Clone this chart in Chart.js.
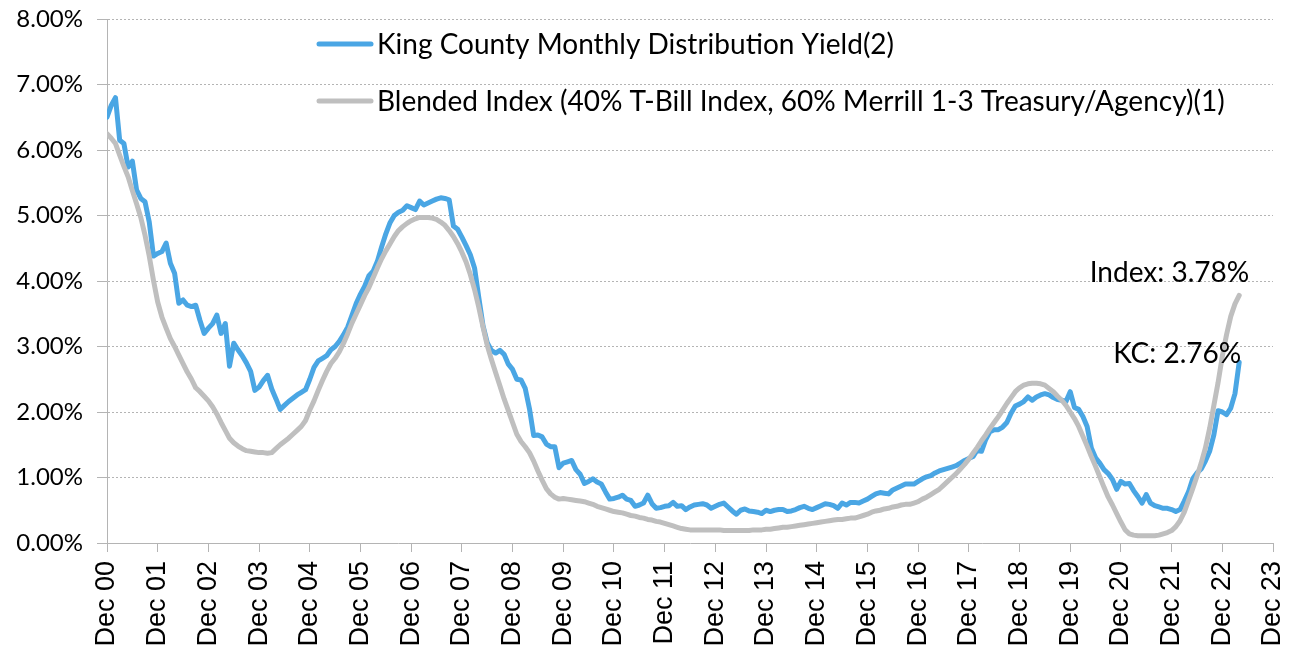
<!DOCTYPE html>
<html>
<head>
<meta charset="utf-8">
<script src="https://cdn.jsdelivr.net/npm/chart.js@4"></script>
<style>
  html, body { margin: 0; padding: 0; background: #fff; }
  #wrap { width: 1296px; height: 656px; }
</style>
</head>
<body>
<div id="wrap"><canvas id="c" width="1296" height="656"></canvas></div>
<script>
// ---------------- DATA ----------------
const seriesNames = [
  "King County Monthly Distribution Yield(2)",
  "Blended Index (40% T-Bill Index, 60% Merrill 1-3 Treasury/Agency)(1)"
];
const xTickLabels = ["Dec 00","Dec 01","Dec 02","Dec 03","Dec 04","Dec 05","Dec 06","Dec 07","Dec 08","Dec 09","Dec 10","Dec 11","Dec 12","Dec 13","Dec 14","Dec 15","Dec 16","Dec 17","Dec 18","Dec 19","Dec 20","Dec 21","Dec 22","Dec 23"];
const yTickLabels = ["0.00%","1.00%","2.00%","3.00%","4.00%","5.00%","6.00%","7.00%","8.00%"];

// Monthly values (%), first point = Dec 2000
const kcYield = [
  6.50, 6.68, 6.80, 6.15, 6.10, 5.74, 5.83, 5.39, 5.26, 5.21, 4.90, 4.38,
  4.42, 4.45, 4.58, 4.27, 4.12, 3.66, 3.71, 3.63, 3.61, 3.63, 3.40, 3.20,
  3.28, 3.35, 3.48, 3.20, 3.35, 2.70, 3.05, 2.95, 2.86, 2.75, 2.62, 2.33,
  2.38, 2.48, 2.56, 2.35, 2.20, 2.04, 2.10, 2.16, 2.21, 2.26, 2.30, 2.34,
  2.50, 2.68, 2.78, 2.82, 2.86, 2.95, 3.00, 3.08, 3.18, 3.30, 3.48, 3.66,
  3.80, 3.92, 4.08, 4.15, 4.30, 4.52, 4.72, 4.89, 5.00, 5.05, 5.08, 5.15,
  5.12, 5.09, 5.22, 5.16, 5.19, 5.22, 5.25, 5.27, 5.26, 5.24, 4.84, 4.79,
  4.67, 4.54, 4.40, 4.20, 3.75, 3.32, 3.06, 2.94, 2.90, 2.94, 2.88, 2.73,
  2.65, 2.50, 2.49, 2.36, 2.05, 1.64, 1.65, 1.62, 1.51, 1.47, 1.47, 1.15,
  1.22, 1.24, 1.26, 1.12, 1.05, 0.91, 0.94, 0.98, 0.93, 0.90, 0.78, 0.67,
  0.68, 0.70, 0.73, 0.67, 0.65, 0.56, 0.58, 0.61, 0.73, 0.60, 0.53, 0.54,
  0.56, 0.57, 0.62, 0.56, 0.57, 0.51, 0.55, 0.58, 0.59, 0.60, 0.58, 0.53,
  0.56, 0.59, 0.61, 0.55, 0.49, 0.44, 0.50, 0.52, 0.49, 0.48, 0.47, 0.45,
  0.50, 0.48, 0.50, 0.51, 0.51, 0.48, 0.49, 0.51, 0.54, 0.56, 0.53, 0.51,
  0.54, 0.57, 0.60, 0.59, 0.57, 0.53, 0.61, 0.58, 0.62, 0.62, 0.61, 0.64,
  0.67, 0.71, 0.75, 0.77, 0.76, 0.75, 0.81, 0.84, 0.87, 0.90, 0.90, 0.90,
  0.94, 0.98, 1.01, 1.03, 1.07, 1.10, 1.12, 1.14, 1.16, 1.18, 1.22, 1.26,
  1.29, 1.32, 1.42, 1.40, 1.58, 1.70, 1.73, 1.73, 1.77, 1.84, 1.98, 2.09,
  2.12, 2.16, 2.23, 2.18, 2.23, 2.26, 2.28, 2.26, 2.22, 2.19, 2.18, 2.16,
  2.31, 2.07, 2.04, 1.93, 1.78, 1.45, 1.30, 1.22, 1.12, 1.06, 0.97, 0.82,
  0.94, 0.90, 0.91, 0.80, 0.71, 0.61, 0.74, 0.61, 0.57, 0.55, 0.53, 0.53,
  0.51, 0.48, 0.51, 0.64, 0.78, 0.98, 1.07, 1.13, 1.25, 1.40, 1.65, 2.02,
  2.00, 1.96, 2.06, 2.28, 2.76
];

const blendedIndex = [
  6.25, 6.18, 6.10, 5.92, 5.75, 5.59, 5.38, 5.18, 4.97, 4.70, 4.38, 4.01,
  3.68, 3.45, 3.28, 3.12, 3.00, 2.87, 2.74, 2.61, 2.50, 2.37, 2.31, 2.24,
  2.17, 2.08, 1.97, 1.84, 1.72, 1.60, 1.53, 1.48, 1.44, 1.41, 1.40, 1.39,
  1.38, 1.38, 1.37, 1.38, 1.44, 1.50, 1.55, 1.60, 1.66, 1.72, 1.78, 1.87,
  2.03, 2.17, 2.33, 2.48, 2.62, 2.74, 2.82, 2.92, 3.05, 3.20, 3.36, 3.50,
  3.64, 3.78, 3.90, 4.05, 4.20, 4.34, 4.46, 4.57, 4.68, 4.77, 4.83, 4.88,
  4.92, 4.95, 4.97, 4.97, 4.97, 4.96, 4.94, 4.90, 4.85, 4.77, 4.68, 4.57,
  4.44, 4.29, 4.10, 3.87, 3.60, 3.30, 3.02, 2.80, 2.60, 2.40, 2.20, 2.02,
  1.84, 1.66, 1.55, 1.47, 1.38, 1.25, 1.10, 0.96, 0.83, 0.75, 0.70, 0.67,
  0.68, 0.67, 0.66, 0.65, 0.64, 0.63, 0.61, 0.59, 0.56, 0.54, 0.52, 0.50,
  0.48, 0.47, 0.46, 0.44, 0.42, 0.41, 0.39, 0.38, 0.36, 0.35, 0.33, 0.32,
  0.30, 0.28, 0.26, 0.24, 0.22, 0.21, 0.20, 0.20, 0.20, 0.20, 0.20, 0.20,
  0.20, 0.20, 0.19, 0.19, 0.19, 0.19, 0.19, 0.19, 0.19, 0.20, 0.20, 0.20,
  0.21, 0.21, 0.22, 0.23, 0.24, 0.24, 0.25, 0.26, 0.27, 0.28, 0.29, 0.30,
  0.31, 0.32, 0.33, 0.34, 0.35, 0.36, 0.36, 0.37, 0.38, 0.38, 0.40, 0.42,
  0.44, 0.47, 0.49, 0.50, 0.52, 0.53, 0.55, 0.56, 0.58, 0.59, 0.59, 0.61,
  0.63, 0.67, 0.70, 0.74, 0.78, 0.82, 0.88, 0.94, 1.00, 1.06, 1.13, 1.20,
  1.28, 1.37, 1.46, 1.56, 1.65, 1.75, 1.84, 1.93, 2.03, 2.13, 2.22, 2.31,
  2.37, 2.41, 2.43, 2.44, 2.44, 2.43, 2.41, 2.36, 2.31, 2.24, 2.18, 2.10,
  2.00, 1.90, 1.78, 1.63, 1.48, 1.32, 1.17, 1.01, 0.85, 0.70, 0.58, 0.45,
  0.32, 0.20, 0.14, 0.12, 0.11, 0.11, 0.11, 0.11, 0.11, 0.12, 0.14, 0.16,
  0.19, 0.25, 0.34, 0.47, 0.65, 0.83, 1.02, 1.22, 1.45, 1.75, 2.10, 2.45,
  2.85, 3.18, 3.46, 3.65, 3.78
];

// ---------------- STYLE ----------------
const KC_COLOR = '#4aa6e4';
const IDX_COLOR = '#bfbfbf';
const GRID_COLOR = '#b4b4b4';
const TEXT_FONT = 'Lato, "Open Sans", sans-serif';

const toPoints = arr => arr.map((v, i) => ({ x: i, y: v }));

function fitFont(ctx, text, targetWidth, family) {
  ctx.font = '24px ' + family;
  const w = ctx.measureText(text).width;
  return 24 * targetWidth / w;
}

const legendPlugin = {
  id: 'manualLegend',
  afterDraw(chart) {
    const ctx = chart.ctx;
    ctx.save();
    const size = fitFont(ctx, seriesNames[1], 848, TEXT_FONT);
    ctx.font = size.toFixed(2) + 'px ' + TEXT_FONT;
    ctx.textAlign = 'left';
    ctx.textBaseline = 'middle';
    const items = [
      { text: seriesNames[0], color: KC_COLOR, y: 44 },
      { text: seriesNames[1], color: IDX_COLOR, y: 101 }
    ];
    items.forEach(it => {
      ctx.strokeStyle = it.color;
      ctx.lineWidth = 5;
      ctx.lineCap = 'round';
      ctx.beginPath();
      ctx.moveTo(319, it.y);
      ctx.lineTo(371, it.y);
      ctx.stroke();
      ctx.fillStyle = '#000';
      ctx.fillText(it.text, 377, it.y + 1);
    });
    ctx.restore();
  }
};

const endLabelPlugin = {
  id: 'endLabels',
  afterDatasetsDraw(chart) {
    const { ctx, scales } = chart;
    const xs = scales.x, ys = scales.y;
    const n = kcYield.length - 1;
    ctx.save();
    const size = fitFont(ctx, seriesNames[1], 848, TEXT_FONT);
    ctx.font = size.toFixed(2) + 'px ' + TEXT_FONT;
    ctx.fillStyle = '#000';
    ctx.textAlign = 'right';
    ctx.textBaseline = 'middle';
    ctx.fillText('Index: ' + blendedIndex[n].toFixed(2) + '%', xs.getPixelForValue(n) + 10, ys.getPixelForValue(blendedIndex[n]) - 22);
    ctx.fillText('KC: ' + kcYield[n].toFixed(2) + '%', xs.getPixelForValue(n) + 2, ys.getPixelForValue(kcYield[n]) - 8);
    ctx.restore();
  }
};

new Chart(document.getElementById('c'), {
  type: 'line',
  data: {
    datasets: [
      {
        label: seriesNames[0],
        data: toPoints(kcYield),
        borderColor: KC_COLOR,
        backgroundColor: KC_COLOR,
        borderWidth: 5,
        pointRadius: 0,
        tension: 0,
        borderJoinStyle: 'round',
        borderCapStyle: 'round',
        order: 2
      },
      {
        label: seriesNames[1],
        data: toPoints(blendedIndex),
        borderColor: IDX_COLOR,
        backgroundColor: IDX_COLOR,
        borderWidth: 5,
        pointRadius: 0,
        tension: 0,
        borderJoinStyle: 'round',
        borderCapStyle: 'round',
        order: 1
      }
    ]
  },
  options: {
    responsive: false,
    animation: false,
    events: [],
    layout: { autoPadding: false, padding: { left: 0, right: 23, top: 19, bottom: 0 } },
    plugins: { legend: { display: false }, tooltip: { enabled: false } },
    scales: {
      x: {
        type: 'linear',
        min: 0,
        max: 276,
        afterFit(scale) {
          scale.height = 113;
          scale.paddingLeft = 0; scale.paddingRight = 0;
          scale.paddingTop = 0; scale.paddingBottom = 0;
        },
        afterBuildTicks(scale) {
          scale.ticks = xTickLabels.map((_, i) => ({ value: i * 12 }));
        },
        ticks: {
          autoSkip: false,
          maxRotation: 90,
          minRotation: 90,
          padding: 9,
          color: '#000',
          font: { family: '"Liberation Sans", Arial, sans-serif', size: 27 },
          callback: (v) => xTickLabels[Math.round(v / 12)]
        },
        grid: {
          drawOnChartArea: false,
          drawTicks: true,
          tickLength: 9,
          color: GRID_COLOR,
          tickColor: GRID_COLOR
        },
        border: { display: true, color: GRID_COLOR, dash: [2, 2] }
      },
      y: {
        min: 0,
        max: 8,
        afterFit(scale) {
          scale.width = 107;
          scale.paddingLeft = 0; scale.paddingRight = 0;
          scale.paddingTop = 0; scale.paddingBottom = 0;
        },
        ticks: {
          stepSize: 1,
          padding: 14,
          color: '#000',
          font: { family: TEXT_FONT, size: 24 },
          callback: (v) => yTickLabels[Math.round(v)]
        },
        grid: {
          color: GRID_COLOR,
          lineWidth: 1,
          drawTicks: true,
          tickLength: 10,
          tickColor: GRID_COLOR
        },
        border: { display: true, color: GRID_COLOR, dash: [2, 2] }
      }
    }
  },
  plugins: [legendPlugin, endLabelPlugin]
});
</script>
</body>
</html>
